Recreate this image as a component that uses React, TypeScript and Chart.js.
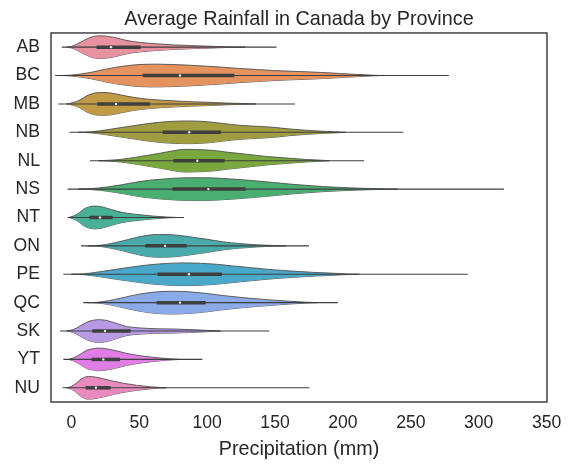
import React, { useEffect, useRef } from "react";
import { Chart, registerables } from "chart.js";

Chart.register(...registerables);

// ---------- data ----------
const provinces = ["AB", "BC", "MB", "NB", "NL", "NS", "NT", "ON", "PE", "QC", "SK", "YT", "NU"];
const colors = ["#e8919f", "#e4925e", "#c19a45", "#a09d40", "#7aa83e", "#4aae72", "#48b096", "#48aaaa", "#4aa8c8", "#8aaae8", "#b89ae4", "#e07ee6", "#e88abe"];

const whiskerLow = [-7, -12, -9.6, -1.5, 13.7, -2.7, -2.7, 7.1, -5.9, 8.8, -8.4, -5.9, -6.4];
const whiskerHigh = [151, 278, 164.7, 244.5, 215.6, 318.6, 83, 175, 292, 196.3, 145.8, 96.5, 175.3];
const q1 = [18.5, 52.5, 19.1, 67.2, 75.1, 74.4, 13.2, 54.5, 63.5, 62.8, 15.4, 15, 10.5];
const q3 = [51, 120, 57.9, 110.2, 112.8, 128.3, 30.4, 84.9, 110.9, 98.9, 43.7, 35.8, 29];
const medians = [29.2, 80, 32.9, 86.8, 92.8, 100.9, 21.1, 69, 86.6, 80, 24.8, 23.5, 18.1];

// kernel density profiles (precipitation grid, relative density)
const abGrid = [-3.5, 0, 4, 9, 16, 22, 31, 41, 51, 63, 75, 88, 100, 115, 128];
const abDensity = [0, 0.07, 0.26, 0.58, 0.93, 1, 0.87, 0.58, 0.41, 0.29, 0.2, 0.14, 0.09, 0.03, 0];
const bcGrid = [-8, 0, 14, 26, 38, 50, 63, 75, 87, 100, 112, 124, 137, 149, 161, 173, 186, 198, 210, 220, 228];
const bcDensity = [0, 0.04, 0.27, 0.58, 0.82, 0.97, 1, 0.97, 0.91, 0.82, 0.73, 0.62, 0.53, 0.44, 0.38, 0.33, 0.26, 0.18, 0.1, 0.04, 0];
const mbGrid = [-3.5, 1.4, 6.4, 11.3, 16.2, 21, 28.5, 36, 45.6, 58, 75, 87, 100, 114, 127, 136];
const mbDensity = [0, 0.12, 0.35, 0.71, 0.93, 1, 0.97, 0.8, 0.58, 0.4, 0.27, 0.2, 0.15, 0.08, 0.03, 0];
const nbGrid = [5, 14, 26, 38, 50, 63, 75, 87, 100, 112, 124, 137, 149, 161, 173, 184, 194, 202];
const nbDensity = [0, 0.04, 0.22, 0.44, 0.66, 0.86, 0.97, 1, 0.93, 0.77, 0.62, 0.53, 0.44, 0.29, 0.18, 0.1, 0.05, 0];
const nlGrid = [20, 26, 36, 50, 63, 75, 83, 92, 105, 114, 129, 144, 159, 173, 183, 190];
const nlDensity = [0, 0.03, 0.11, 0.35, 0.61, 0.87, 1, 0.98, 0.9, 0.76, 0.57, 0.37, 0.23, 0.11, 0.05, 0];
const nsGrid = [5, 14, 26, 38, 50, 63, 75, 87, 100, 112, 124, 137, 149, 161, 173, 186, 198, 212, 226, 240];
const nsDensity = [0, 0.04, 0.18, 0.4, 0.66, 0.84, 0.95, 1, 1, 0.93, 0.84, 0.71, 0.58, 0.44, 0.33, 0.22, 0.15, 0.08, 0.03, 0];
const ntGrid = [-2.2, 1.4, 5.1, 8.8, 12.5, 16.2, 21, 26, 33.4, 40.7, 50.5, 60.4, 70.2, 78];
const ntDensity = [0, 0.12, 0.35, 0.71, 0.91, 1, 0.97, 0.82, 0.56, 0.38, 0.24, 0.12, 0.04, 0];
const onGrid = [12, 19, 26, 38, 50, 63, 75, 87, 100, 112, 124, 137, 149, 158];
const onDensity = [0, 0.03, 0.13, 0.44, 0.8, 1, 0.97, 0.8, 0.58, 0.35, 0.2, 0.09, 0.03, 0];
const peGrid = [0, 9, 21, 33, 46, 58, 70, 82, 95, 107, 119, 132, 144, 156, 168, 181, 193, 203, 212];
const peDensity = [0, 0.04, 0.22, 0.44, 0.66, 0.84, 0.95, 1, 0.97, 0.88, 0.73, 0.58, 0.44, 0.33, 0.24, 0.15, 0.09, 0.03, 0];
const qcGrid = [12, 19, 28, 38, 50, 63, 75, 87, 100, 112, 124, 137, 149, 161, 173, 181];
const qcDensity = [0, 0.03, 0.18, 0.44, 0.75, 0.95, 1, 0.95, 0.8, 0.62, 0.47, 0.33, 0.22, 0.12, 0.04, 0];
const skGrid = [-3.5, 1.4, 6.4, 11.3, 16.2, 20, 26, 33.4, 40.7, 50.5, 63, 75, 87, 100, 110];
const skDensity = [0, 0.13, 0.44, 0.77, 0.95, 1, 0.93, 0.66, 0.4, 0.27, 0.2, 0.18, 0.13, 0.06, 0];
const ytGrid = [-2.2, 1.4, 6.4, 11.3, 16.2, 20, 26, 33.4, 40.7, 50.5, 60.4, 70.2, 80];
const ytDensity = [0, 0.13, 0.44, 0.8, 0.95, 1, 0.93, 0.75, 0.53, 0.33, 0.18, 0.07, 0];
const nuGrid = [-3.5, 0.2, 3.9, 7.6, 12.5, 17.4, 23.5, 31, 38.3, 48, 58, 65, 70];
const nuDensity = [0, 0.13, 0.44, 0.8, 1, 0.95, 0.8, 0.58, 0.4, 0.22, 0.09, 0.03, 0];

const grids = [abGrid, bcGrid, mbGrid, nbGrid, nlGrid, nsGrid, ntGrid, onGrid, peGrid, qcGrid, skGrid, ytGrid, nuGrid];
const densities = [abDensity, bcDensity, mbDensity, nbDensity, nlDensity, nsDensity, ntDensity, onDensity, peDensity, qcDensity, skDensity, ytDensity, nuDensity];

const xTicks = [0, 50, 100, 150, 200, 250, 300, 350];

// ---------- styles ----------
const HALF_WIDTH = 0.4;
const LINE_GRAY = "#3f3f3f";
const EDGE_GRAY = "#505050";
const TEXT = "#262626";
const FONT = "'Liberation Sans', Arial, sans-serif";

const framePlugin = {
  id: "frame",
  afterDraw(chart: any) {
    const { ctx, chartArea } = chart;
    ctx.save();
    ctx.strokeStyle = TEXT;
    ctx.lineWidth = 1.3;
    ctx.strokeRect(chartArea.left, chartArea.top, chartArea.right - chartArea.left, chartArea.bottom - chartArea.top);
    ctx.restore();
  },
};

export default function App() {
  const ref = useRef<HTMLCanvasElement | null>(null);

  useEffect(() => {
    document.body.style.margin = "0";
    const canvas = ref.current;
    if (!canvas) return;

    const datasets: any[] = [];
    provinces.forEach((_, i) => {
      const g = grids[i];
      const d = densities[i];
      datasets.push({
        label: provinces[i] + " upper",
        data: g.map((x, k) => ({ x, y: i - d[k] * HALF_WIDTH })),
        showLine: true,
        borderColor: EDGE_GRAY,
        borderWidth: 0.9,
        backgroundColor: colors[i],
        fill: "+1",
        pointRadius: 0,
        cubicInterpolationMode: "monotone",
        order: 10,
      });
      datasets.push({
        label: provinces[i] + " lower",
        data: g.map((x, k) => ({ x, y: i + d[k] * HALF_WIDTH })),
        showLine: true,
        borderColor: EDGE_GRAY,
        borderWidth: 0.9,
        backgroundColor: colors[i],
        fill: false,
        pointRadius: 0,
        cubicInterpolationMode: "monotone",
        order: 10,
      });
    });
    provinces.forEach((_, i) => {
      datasets.push({
        label: provinces[i] + " whisker",
        data: [{ x: whiskerLow[i], y: i }, { x: whiskerHigh[i], y: i }],
        showLine: true,
        borderColor: LINE_GRAY,
        borderWidth: 1.1,
        pointRadius: 0,
        fill: false,
        order: 3,
      });
      datasets.push({
        label: provinces[i] + " box",
        data: [{ x: q1[i], y: i }, { x: q3[i], y: i }],
        showLine: true,
        borderColor: LINE_GRAY,
        borderWidth: 3.5,
        borderCapStyle: "butt",
        pointRadius: 0,
        fill: false,
        order: 2,
      });
    });
    datasets.push({
      label: "median",
      data: medians.map((m, i) => ({ x: m, y: i })),
      showLine: false,
      pointRadius: 1.2,
      pointBackgroundColor: "#e8e8e8",
      pointBorderWidth: 0,
      order: 1,
    });

    const chart = new Chart(canvas, {
      type: "scatter",
      data: { datasets },
      options: {
        responsive: false,
        animation: false,
        layout: { padding: { left: 0, right: 25, top: 0, bottom: 0 } },
        plugins: {
          legend: { display: false },
          tooltip: { enabled: false },
          title: {
            display: true,
            text: "Average Rainfall in Canada by Province",
            fullSize: false,
            color: TEXT,
            font: { family: FONT, size: 19.8, weight: "normal" },
            padding: { top: 7.5, bottom: 1.7 },
          },
        },
        scales: {
          x: {
            type: "linear",
            min: -15,
            max: 350.3,
            grid: { display: false, drawTicks: false },
            border: { display: false },
            ticks: { color: TEXT, font: { family: FONT, size: 17.6 }, padding: 10.5 },
            afterBuildTicks: (scale: any) => {
              scale.ticks = xTicks.map((v) => ({ value: v }));
            },
            afterFit: (scale: any) => {
              scale.height = 66;
            },
            title: {
              display: true,
              text: "Precipitation (mm)",
              color: TEXT,
              font: { family: FONT, size: 19.8 },
              padding: { top: 4, bottom: 7 },
            },
          },
          y: {
            type: "linear",
            min: -0.5,
            max: 12.5,
            reverse: true,
            grid: { display: false, drawTicks: false },
            border: { display: false },
            ticks: {
              color: TEXT,
              font: { family: FONT, size: 17.6 },
              padding: 11,
              callback: (v: any) => provinces[v] ?? "",
            },
            afterBuildTicks: (scale: any) => {
              scale.ticks = provinces.map((_, i) => ({ value: i }));
            },
            afterFit: (scale: any) => {
              scale.width = 51;
            },
          },
        },
      },
      plugins: [framePlugin],
    });

    return () => chart.destroy();
  }, []);

  return (
    <div style={{ width: 572, height: 468, background: "#ffffff" }}>
      <canvas ref={ref} width={572} height={468} />
    </div>
  );
}
